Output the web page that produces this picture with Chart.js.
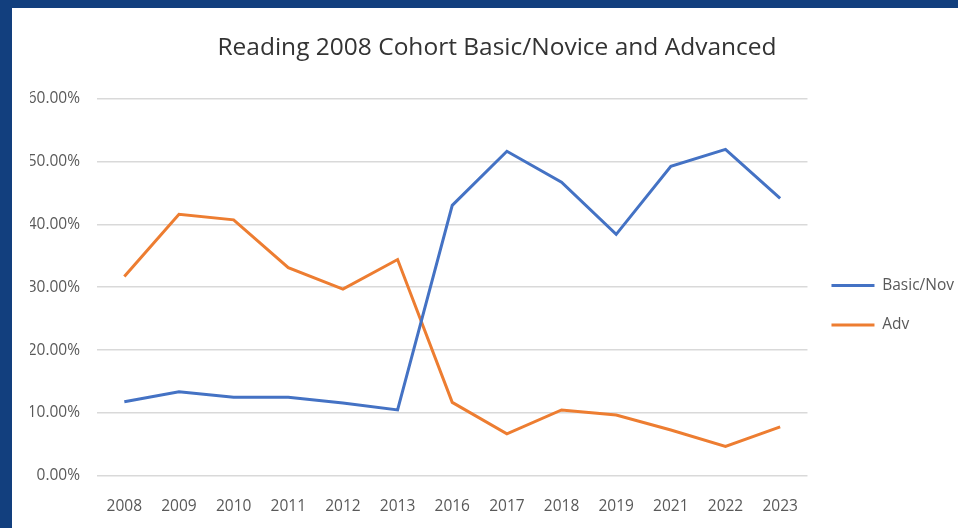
<!DOCTYPE html>
<html lang="en">
<head>
    <meta charset="UTF-8">
    <title>Reading 2008 Cohort</title>
    <script src="https://cdn.jsdelivr.net/npm/chart.js"></script>
    <style>
        html, body {
            margin: 0;
            padding: 0;
            width: 958px;
            height: 528px;
            overflow: hidden;
            background: #123f7e;
        }
        .panel {
            position: absolute;
            left: 12px;
            top: 8px;
            width: 962px;
            height: 520px;
            background: #ffffff;
        }
    </style>
</head>
<body>
    <div class="panel">
        <canvas id="cohortChart" width="962" height="520"></canvas>
    </div>

    <script>
        const years = ['2008', '2009', '2010', '2011', '2012', '2013', '2016', '2017', '2018', '2019', '2021', '2022', '2023'];
        const basicNovice = [11.8, 13.4, 12.5, 12.5, 11.6, 10.5, 43.0, 51.6, 46.7, 38.4, 49.2, 51.9, 44.1];
        const advanced = [31.7, 41.6, 40.7, 33.1, 29.7, 34.4, 11.7, 6.7, 10.5, 9.7, 7.3, 4.7, 7.8];

        const tickFont = { family: 'Open Sans', size: 15.5 };
        const textColor = '#595959';

        new Chart(document.getElementById('cohortChart'), {
            type: 'line',
            data: {
                labels: years,
                datasets: [
                    { label: 'Basic/Nov', data: basicNovice, borderColor: '#4472c4', backgroundColor: '#4472c4', borderWidth: 3, pointRadius: 0, tension: 0 },
                    { label: 'Adv', data: advanced, borderColor: '#ed7d31', backgroundColor: '#ed7d31', borderWidth: 3, pointRadius: 0, tension: 0 }
                ]
            },
            options: {
                responsive: false,
                animation: false,
                layout: { padding: { left: 18, right: 10, top: 0, bottom: 0 } },
                plugins: {
                    title: {
                        display: true,
                        text: 'Reading 2008 Cohort Basic/Novice and Advanced',
                        color: '#333333',
                        font: { family: 'Open Sans', size: 24.5, weight: 'normal' },
                        padding: { top: 25, bottom: 36 }
                    },
                    legend: {
                        position: 'right',
                        // empty title pushes the two entries down beside the middle of the plot
                        title: { display: true, text: '', padding: { top: 60, bottom: 0 } },
                        labels: {
                            usePointStyle: true,
                            pointStyle: 'line',
                            pointStyleWidth: 43,
                            padding: 24,
                            color: textColor,
                            font: tickFont
                        }
                    },
                    tooltip: { enabled: false }
                },
                scales: {
                    x: {
                        offset: true,
                        grid: { display: false, drawTicks: false },
                        border: { display: false },
                        ticks: { color: textColor, font: tickFont, padding: 21, maxRotation: 0 },
                        afterFit(scale) { scale.height = 52; }
                    },
                    y: {
                        min: 0,
                        max: 60,
                        ticks: {
                            stepSize: 10,
                            color: textColor,
                            font: tickFont,
                            padding: 17,
                            callback: v => v.toFixed(2) + '%'
                        },
                        grid: { color: '#d9d9d9', lineWidth: 1.5, drawTicks: false },
                        border: { display: false },
                        afterFit(scale) { scale.width = 67; }
                    }
                }
            }
        });
    </script>
</body>
</html>
